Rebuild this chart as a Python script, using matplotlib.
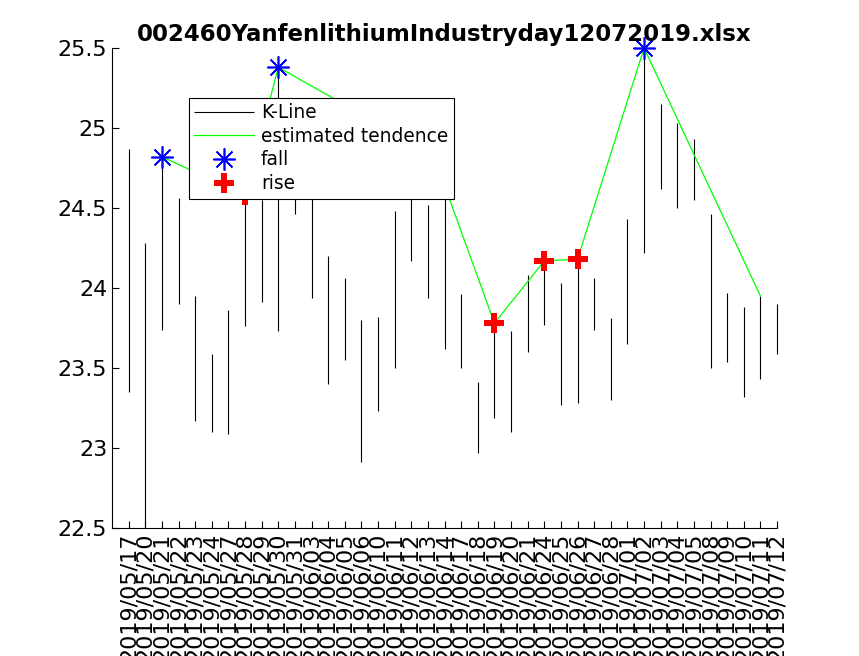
import matplotlib
matplotlib.use('Agg')
import matplotlib.pyplot as plt

dates = ['2019/05/17', '2019/05/20', '2019/05/21', '2019/05/22', '2019/05/23',
         '2019/05/24', '2019/05/27', '2019/05/28', '2019/05/29', '2019/05/30',
         '2019/05/31', '2019/06/03', '2019/06/04', '2019/06/05', '2019/06/06',
         '2019/06/10', '2019/06/11', '2019/06/12', '2019/06/13', '2019/06/14',
         '2019/06/17', '2019/06/18', '2019/06/19', '2019/06/20', '2019/06/21',
         '2019/06/24', '2019/06/25', '2019/06/26', '2019/06/27', '2019/06/28',
         '2019/07/01', '2019/07/02', '2019/07/03', '2019/07/04', '2019/07/05',
         '2019/07/08', '2019/07/09', '2019/07/10', '2019/07/11', '2019/07/12']

high = [24.87, 24.28, 24.82, 24.56, 23.95, 23.59, 23.86, 24.58, 24.55, 25.38,
        24.90, 24.80, 24.20, 24.06, 23.80, 23.82, 24.48, 24.91, 24.52, 24.64,
        23.96, 23.41, 23.78, 23.73, 24.08, 24.17, 24.03, 24.18, 24.06, 23.81,
        24.43, 25.50, 25.15, 25.03, 24.93, 24.46, 23.97, 23.88, 23.95, 23.90]
low = [23.35, 22.51, 23.74, 23.90, 23.17, 23.10, 23.09, 23.76, 23.91, 23.73,
       24.46, 23.94, 23.40, 23.55, 22.91, 23.23, 23.50, 24.17, 23.94, 23.62,
       23.50, 22.97, 23.19, 23.10, 23.60, 23.77, 23.27, 23.28, 23.74, 23.30,
       23.65, 24.22, 24.62, 24.50, 24.55, 23.50, 23.54, 23.32, 23.43, 23.59]

# turning points (day index, 1-based) joined by the tendence line
trend_idx = [3, 8, 10, 18, 20, 23, 26, 28, 32, 39]
fall_idx = [3, 10, 18, 32]
rise_idx = [8, 20, 23, 26, 28]

x = list(range(1, len(dates) + 1))

fig = plt.figure(figsize=(8.59, 6.56), dpi=100)
ax = fig.add_axes([0.1305, 0.1951, 0.7741, 0.7317])

ax.vlines(x, low, high, colors='black', linewidth=0.8, label='K-Line',
          clip_on=False)
ax.plot(trend_idx, [high[i - 1] for i in trend_idx], color=(0, 1, 0),
        linewidth=0.9, label='estimated tendence')
ax.plot(fall_idx, [high[i - 1] for i in fall_idx], linestyle='none',
        marker=(8, 2, 0), markersize=16, markeredgewidth=1.2,
        color='blue', label='fall', clip_on=False)
ax.plot(rise_idx, [high[i - 1] for i in rise_idx], linestyle='none',
        marker='P', markersize=15, color='red', markeredgewidth=0, label='rise')

ax.set_xlim(0, 40)
ax.set_ylim(22.5, 25.5)
ax.set_xticks(x)
ax.set_xticklabels(dates, rotation=90)
ax.set_yticks([22.5, 23, 23.5, 24, 24.5, 25, 25.5])
ax.set_yticklabels(['22.5', '23', '23.5', '24', '24.5', '25', '25.5'])
ax.tick_params(direction='in', length=5, labelsize=16, width=0.8)
ax.spines['top'].set_visible(False)
ax.spines['right'].set_visible(False)

ax.set_title('002460YanfenlithiumIndustryday12072019.xlsx',
             fontsize=16.5, fontweight='bold', pad=5)

leg = ax.legend(loc='upper left', bbox_to_anchor=(188.5 / 859, 1 - 97.5 / 656),
                bbox_transform=fig.transFigure, borderaxespad=0,
                fontsize=13.4, fancybox=False, framealpha=1,
                edgecolor='black', handlelength=3.2, labelspacing=0.25,
                borderpad=0.3, handletextpad=0.4)
leg.get_frame().set_linewidth(0.8)

fig.savefig('out.png', dpi=100)
